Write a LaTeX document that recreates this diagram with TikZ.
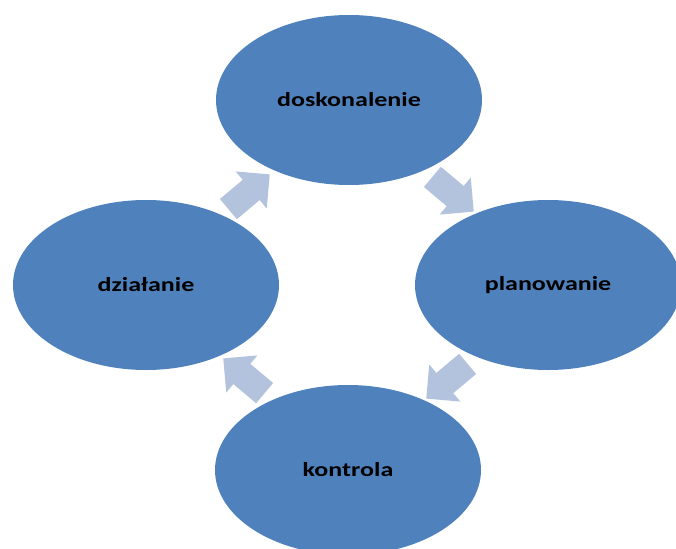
\documentclass[tikz,border=0pt]{standalone}
\usepackage{fontspec}
\newfontfamily\cyclefont[FakeStretch=1.3]{Carlito}
\usetikzlibrary{shapes.geometric,shapes.arrows}
\definecolor{CycleBlue}{RGB}{79,129,189}
\definecolor{ArrowBlue}{RGB}{179,195,222}

\begin{document}
\begin{tikzpicture}[
    x=1pt, y=-1pt,
    font=\cyclefont\bfseries\fontsize{20}{23}\selectfont,
    phase/.style={ellipse, fill=CycleBlue, minimum width=266pt, minimum height=170pt, inner sep=0pt, text=black},
    flow/.style={single arrow, fill=ArrowBlue, minimum height=54pt, minimum width=48pt,
                 inner sep=13pt, single arrow head extend=11pt}
  ]
  \clip (0,0) rectangle (676,548);

  % Fazy cyklu
  \node[phase] (dosk) at (349,100) {doskonalenie};
  \node[phase] (plan) at (548,285) {planowanie};
  \node[phase] (kontr) at (348,470) {kontrola};
  \node[phase] (dzial) at (146,285) {działanie};

  % Strzałki blokowe (zgodnie z ruchem wskazówek zegara)
  \node[flow, rotate=-40] (s1) at (448,190) {};
  \node[flow, rotate=-140] (s2) at (452,377) {};
  \node[flow, rotate=140] (s3) at (249,380) {};
  \node[flow, rotate=40] (s4) at (244,196) {};

\end{tikzpicture}
\end{document}
